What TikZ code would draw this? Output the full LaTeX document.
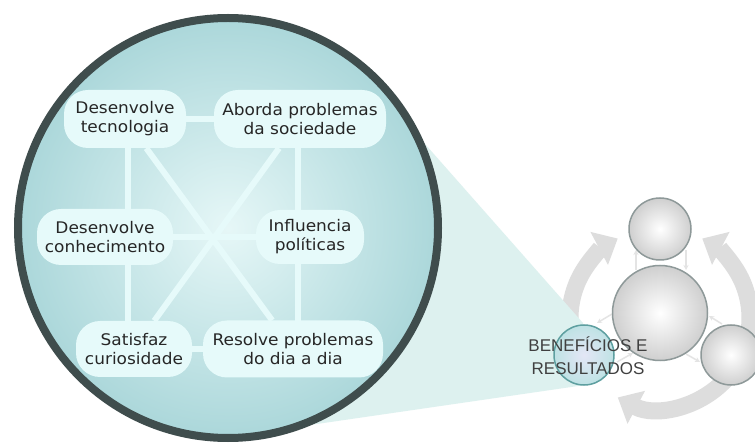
\documentclass[tikz,border=0pt]{standalone}
\usepackage{fontspec}
\setmainfont{DejaVu Sans}[FakeStretch=1.06]
\newfontfamily\labelfont{Liberation Sans}
\usetikzlibrary{arrows.meta,calc}
\pgfdeclarelayer{back}
\pgfdeclarelayer{links}
\pgfsetlayers{back,links,main}
\definecolor{ringdark}{HTML}{3F4D4D}
\definecolor{circout}{HTML}{ABD7DA}
\definecolor{circin}{HTML}{E6F7F7}
\definecolor{pillc}{HTML}{E6FAFA}
\definecolor{textc}{HTML}{262626}
\definecolor{conec}{HTML}{DDF1EF}
\definecolor{ringc}{HTML}{DDDDDD}
\definecolor{gborder}{HTML}{8E9999}
\definecolor{gout}{HTML}{CFCFCF}
\definecolor{lborder}{HTML}{5E9FA0}
\definecolor{lout}{HTML}{BEE2E4}
\definecolor{lin}{HTML}{E4E6F6}
\definecolor{labelc}{HTML}{404040}
\definecolor{faintc}{HTML}{E4E4E4}
\tikzset{
  pill/.style={fill=pillc, rounded corners=24pt, inner sep=0pt, align=center,
    font=\fontsize{16}{19}\selectfont, text=textc},
  conn/.style={draw=pillc, line width=6pt},
  ringarrow/.style={draw=ringc, line width=17pt, -{Triangle[width=36pt,length=21pt]}},
  faint/.style={draw=faintc, line width=1.5pt, -{Stealth[length=5pt,width=5pt]}},
  gcirc/.style={circle, draw=gborder, line width=1.5pt, inner color=white, outer color=gout, inner sep=0pt},
}
\begin{document}
\begin{tikzpicture}[x=1pt,y=-1pt]
\useasboundingbox (0,0) rectangle (755,443);

\begin{pgfonlayer}{back}
\fill[white] (0,0) rectangle (755,443);
% cycle diagram: ring arrows
\coordinate (cyc) at (660,318);
\draw[ringarrow] (cyc) ++(150:90) arc[start angle=150, end angle=242, radius=90];
\draw[ringarrow] (cyc) ++(30:90) arc[start angle=30, end angle=-62, radius=90];
\draw[ringarrow] (cyc) ++(40:90) arc[start angle=40, end angle=118, radius=90];
% cone
\fill[conec] (583,323) -- (585,385) -- (310,425) -- (228,228) -- (380,93) -- cycle;
% big circle
\node[circle, minimum size=420pt, inner sep=0pt, draw=ringdark, line width=8pt,
  inner color=circin, outer color=circout] (big) at (228,228) {};
\end{pgfonlayer}

% pills
\node[pill, minimum width=122pt, minimum height=58pt] (tec) at (125,119) {Desenvolve\\tecnologia};
\node[pill, minimum width=172pt, minimum height=58pt] (abo) at (300,119) {Aborda problemas\\da sociedade};
\node[pill, minimum width=136pt, minimum height=56pt] (con) at (105,237) {Desenvolve\\conhecimento};
\node[pill, minimum width=108pt, minimum height=54pt] (inf) at (310,237) {Influencia\\políticas};
\node[pill, minimum width=116pt, minimum height=56pt] (sat) at (134,349) {Satisfaz\\curiosidade};
\node[pill, minimum width=180pt, minimum height=57pt] (res) at (293,349) {Resolve problemas\\do dia a dia};

% connectors (behind pills)
\begin{pgfonlayer}{links}
\draw[conn] (tec) -- (abo);
\draw[conn] (sat) -- (res);
\draw[conn] (con) -- (inf);
\draw[conn] ([xshift=3pt]tec.center) -- ([xshift=3pt]tec.center |- sat.center);
\draw[conn] ([xshift=-2pt]abo.center) -- ([xshift=-2pt]abo.center |- res.center);
\draw[conn] (tec) -- (res);
\draw[conn] (abo) -- (sat);
\end{pgfonlayer}

% faint arrows between circles
\draw[faint] (636,270) -- (636,250);
\draw[faint] (686,250) -- (686,270);
\draw[faint] (612,314) -- (597,323);
\draw[faint] (617,362) -- (633,353);
\draw[faint] (686,354) -- (700,362);
\draw[faint] (722,324) -- (709,316);

% gray circles
\node[gcirc, minimum size=62pt] (top) at (660,229) {};
\node[gcirc, minimum size=95pt] (mid) at (660,313) {};
\node[gcirc, minimum size=60pt] (rgt) at (731,355) {};
\node[circle, draw=lborder, line width=1.5pt, inner color=lin, outer color=lout,
  minimum size=60pt, inner sep=0pt] (lft) at (584,355) {};
\node[font=\labelfont\fontsize{17}{23}\selectfont, text=labelc, align=center] (lbl) at (588,356) {BENEFÍCIOS E\\RESULTADOS};
\end{tikzpicture}
\end{document}
